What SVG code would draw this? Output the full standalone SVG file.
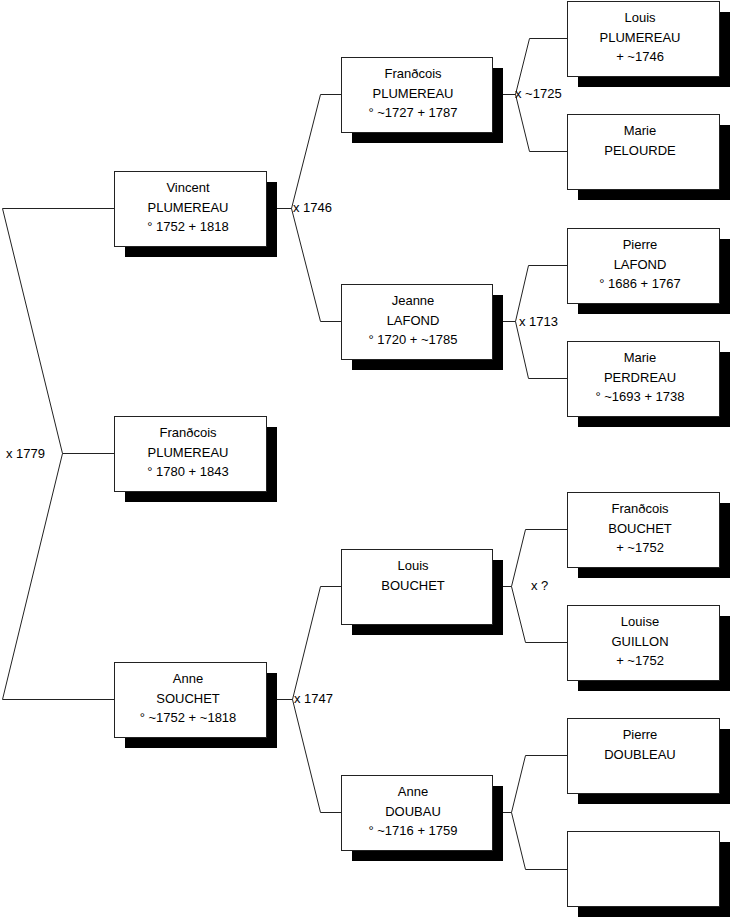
<svg xmlns="http://www.w3.org/2000/svg" width="731" height="920" viewBox="0 0 731 920">
<style>
.bg{fill:#fff}
.sh{fill:#000}
.bx{fill:#fff;stroke:#222;stroke-width:1}
.t{font-family:"Liberation Sans",Arial,sans-serif;font-size:13px;fill:#000;text-anchor:middle}
.m{font-family:"Liberation Sans",Arial,sans-serif;font-size:13px;fill:#000}
.c{fill:none;stroke:#222;stroke-width:1}
</style>
<defs>
<g id="box152"><rect class="sh" x="11" y="11" width="152" height="75"/><rect class="bx" x="0.5" y="0.5" width="152" height="75"/></g>
<g id="box151"><rect class="sh" x="11" y="11" width="151" height="75"/><rect class="bx" x="0.5" y="0.5" width="151" height="75"/></g>
</defs>
<rect class="bg" x="0" y="0" width="731" height="920"/>
<g id="connectors">
<polyline class="c" points="114,208.5 2.5,208.5 62.5,453.5 2.5,699.5 114,699.5"/>
<line class="c" x1="62.5" y1="453.5" x2="114" y2="453.5"/>
<polyline class="c" points="266,208.5 291.5,208.5"/>
<polyline class="c" points="341,94.5 320.5,94.5 291.5,208.5 320.5,321.5 341,321.5"/>
<polyline class="c" points="266,699.5 292.5,699.5"/>
<polyline class="c" points="341,586.5 320.5,586.5 292.5,699.5 320.5,812.5 341,812.5"/>
<polyline class="c" points="492,94.5 515.5,94.5"/>
<polyline class="c" points="567,38.5 529.5,38.5 515.5,94.5 529.5,151.5 567,151.5"/>
<polyline class="c" points="492,321.5 515.5,321.5"/>
<polyline class="c" points="567,265.5 528.5,265.5 515.5,321.5 528.5,378.5 567,378.5"/>
<polyline class="c" points="492,586.5 511.5,586.5"/>
<polyline class="c" points="567,529.5 525.5,529.5 511.5,586.5 525.5,642.5 567,642.5"/>
<polyline class="c" points="492,812.5 511.5,812.5"/>
<polyline class="c" points="567,755.5 525.5,755.5 511.5,812.5 525.5,869.5 567,869.5"/>
<text class="m" x="6" y="458">x 1779</text>
<text class="m" x="293" y="212">x 1746</text>
<text class="m" x="294" y="703">x 1747</text>
<text class="m" x="515" y="98">x ~1725</text>
<text class="m" x="519" y="326">x 1713</text>
<text class="m" x="531" y="590">x ?</text>
</g>
<g id="vincent" transform="translate(114,171)"><use href="#box152"/><text class="t" x="74" y="21">Vincent</text><text class="t" x="74" y="41">PLUMEREAU</text><text class="t" x="74" y="60">° 1752 + 1818</text></g>
<g id="francois1" transform="translate(114,416)"><use href="#box152"/><text class="t" x="74" y="21">Franðcois</text><text class="t" x="74" y="41">PLUMEREAU</text><text class="t" x="74" y="60">° 1780 + 1843</text></g>
<g id="anne1" transform="translate(114,662)"><use href="#box152"/><text class="t" x="74" y="21">Anne</text><text class="t" x="74" y="41">SOUCHET</text><text class="t" x="74" y="60">° ~1752 + ~1818</text></g>
<g id="francois2" transform="translate(341,57)"><use href="#box151"/><text class="t" x="72" y="21">Franðcois</text><text class="t" x="72" y="41">PLUMEREAU</text><text class="t" x="72" y="60">° ~1727 + 1787</text></g>
<g id="jeanne" transform="translate(341,284)"><use href="#box151"/><text class="t" x="72" y="21">Jeanne</text><text class="t" x="72" y="41">LAFOND</text><text class="t" x="72" y="60">° 1720 + ~1785</text></g>
<g id="louis2" transform="translate(341,549)"><use href="#box151"/><text class="t" x="72" y="21">Louis</text><text class="t" x="72" y="41">BOUCHET</text></g>
<g id="anne2" transform="translate(341,775)"><use href="#box151"/><text class="t" x="72" y="21">Anne</text><text class="t" x="72" y="41">DOUBAU</text><text class="t" x="72" y="60">° ~1716 + 1759</text></g>
<g id="louis3" transform="translate(567,1)"><use href="#box152"/><text class="t" x="73" y="21">Louis</text><text class="t" x="73" y="41">PLUMEREAU</text><text class="t" x="73" y="60">+ ~1746</text></g>
<g id="marie3a" transform="translate(567,114)"><use href="#box152"/><text class="t" x="73" y="21">Marie</text><text class="t" x="73" y="41">PELOURDE</text></g>
<g id="pierre3a" transform="translate(567,228)"><use href="#box152"/><text class="t" x="73" y="21">Pierre</text><text class="t" x="73" y="41">LAFOND</text><text class="t" x="73" y="60">° 1686 + 1767</text></g>
<g id="marie3b" transform="translate(567,341)"><use href="#box152"/><text class="t" x="73" y="21">Marie</text><text class="t" x="73" y="41">PERDREAU</text><text class="t" x="73" y="60">° ~1693 + 1738</text></g>
<g id="francois3" transform="translate(567,492)"><use href="#box152"/><text class="t" x="73" y="21">Franðcois</text><text class="t" x="73" y="41">BOUCHET</text><text class="t" x="73" y="60">+ ~1752</text></g>
<g id="louise3" transform="translate(567,605)"><use href="#box152"/><text class="t" x="73" y="21">Louise</text><text class="t" x="73" y="41">GUILLON</text><text class="t" x="73" y="60">+ ~1752</text></g>
<g id="pierre3b" transform="translate(567,718)"><use href="#box152"/><text class="t" x="73" y="21">Pierre</text><text class="t" x="73" y="41">DOUBLEAU</text></g>
<g id="empty3" transform="translate(567,831)"><use href="#box152"/></g>
</svg>
